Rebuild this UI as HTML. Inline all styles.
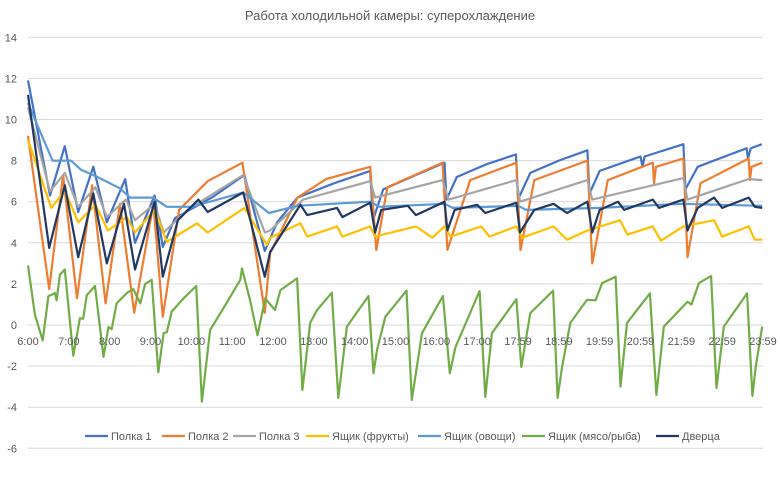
<!DOCTYPE html>
<html><head><meta charset="utf-8"><style>
body{margin:0;background:#fff;}
svg{display:block;font-family:"Liberation Sans",sans-serif;}
</style></head><body>
<svg id="chart" width="780" height="482">
<text x="390" y="20" text-anchor="middle" font-size="13" fill="#595959">Работа холодильной камеры: суперохлаждение</text>
<g id="grid"></g><g id="series"></g><g id="xlabels"></g><g id="legend"></g>
</svg>
<script>
const yTicks=[14,12,10,8,6,4,2,0,-2,-4,-6];
const xTickLabels=["6:00","7:00","8:00","9:00","10:00","11:00","12:00","13:00","14:00","15:00","16:00","17:00","17:59","18:59","19:59","20:59","21:59","22:59","23:59"];
const seriesNames=["Полка 1","Полка 2","Полка 3","Ящик (фрукты)","Ящик (овощи)","Ящик (мясо/рыба)","Дверца"];
const p1T=[0,0.54,0.9,1.23,1.6,1.93,2.38,2.62,3.1,3.3,3.6,4.5,5.3,5.8,6.1,6.6,7.5,8.38,8.45,8.7,9.5,10.2,10.25,10.5,11.2,11.95,12.0,12.3,13.0,13.7,13.75,14.0,15.0,15.05,15.1,16.05,16.1,16.4,17.2,17.6,17.63,17.7,17.97];
const p1V=[11.9,6.3,8.7,5.5,7.7,5.0,7.1,4.0,6.3,3.8,5.2,6.2,7.3,3.6,5.0,6.2,6.9,7.5,5.1,6.6,7.3,7.9,6.1,7.2,7.8,8.3,6.1,7.4,8.0,8.5,6.4,7.5,8.2,7.7,8.2,8.8,6.6,7.7,8.3,8.6,8.1,8.6,8.8];
const p2T=[0,0.52,0.86,1.2,1.57,1.9,2.25,2.6,3.07,3.3,3.7,4.4,5.25,5.8,5.93,6.6,7.3,8.38,8.53,8.8,10.15,10.27,10.83,11.96,12.06,12.4,13.7,13.82,14.2,15.3,15.33,15.38,16.05,16.15,16.47,17.65,17.68,17.72,17.98];
const p2V=[9.2,1.75,7.3,1.3,6.8,1.05,5.9,0.6,5.9,0.4,5.6,7.0,7.9,0.6,3.5,6.2,7.1,7.7,3.65,6.7,7.9,3.65,7.05,7.9,3.65,7.05,8.0,3.0,7.05,7.9,6.9,7.7,8.1,3.3,6.9,8.1,7.05,7.7,7.9];
const p3T=[0,0.54,0.9,1.23,1.65,1.93,2.4,2.62,3.1,3.32,3.9,5.27,5.8,5.93,6.74,8.38,8.5,10.15,10.3,11.96,12.05,13.7,13.82,16.05,16.15,17.65,17.98];
const p3V=[10.6,6.5,7.4,5.75,6.7,5.25,6.1,5.1,5.9,4.5,5.6,7.3,4.5,4.6,6.1,7.0,6.2,7.05,6.1,7.05,6.0,7.05,6.1,7.15,6.1,7.1,7.05];
const frT=[0,0.57,0.9,1.23,1.65,1.96,2.42,2.62,3.1,3.4,4.14,4.4,5.3,5.85,5.93,6.67,6.84,7.57,7.7,8.38,8.5,9.5,9.9,10.2,10.35,11.1,11.3,11.96,12.1,12.87,13.2,13.7,14.5,14.68,15.3,15.5,16.05,16.8,17.0,17.65,17.8,17.98];
const frV=[9.0,5.7,6.55,5.0,5.85,4.6,5.25,4.5,5.6,4.05,4.95,4.5,5.7,3.9,4.25,4.95,4.3,4.8,4.3,4.8,4.3,4.8,4.25,4.8,4.3,4.8,4.3,4.8,4.25,4.8,4.15,4.6,5.1,4.4,4.8,4.1,4.8,5.1,4.3,4.8,4.15,4.15];
const vgT=[0,0.6,1.05,1.3,1.7,2.25,2.5,3.06,3.4,4.0,5.27,5.9,6.6,8.38,8.6,10.2,10.4,12.0,12.2,14.0,16.0,17.98];
const vgV=[10.8,8.0,8.0,7.55,7.2,6.65,6.2,6.2,5.75,5.75,6.45,5.45,5.8,6.0,5.75,5.9,5.7,5.8,5.6,5.7,5.9,5.8];
const mtT=[0,0.17,0.36,0.5,0.66,0.7,0.78,0.9,1.11,1.27,1.35,1.44,1.64,1.85,1.97,2.05,2.17,2.42,2.58,2.75,2.87,3.03,3.19,3.32,3.4,3.52,3.81,4.12,4.26,4.46,4.79,5.2,5.24,5.44,5.62,5.81,6.05,6.18,6.59,6.72,6.91,7.08,7.44,7.6,7.81,8.34,8.46,8.55,8.75,9.27,9.4,9.65,10.16,10.33,10.47,11.06,11.2,11.36,11.96,12.08,12.3,12.86,12.97,13.08,13.28,13.69,13.9,14.06,14.39,14.51,14.67,15.23,15.39,15.57,16.15,16.25,16.43,16.73,16.86,17.04,17.61,17.74,17.82,17.98];
const mtV=[2.9,0.5,-0.75,1.4,1.55,1.2,2.45,2.7,-1.5,0.33,0.3,1.45,1.9,-1.55,-0.1,-0.2,1.05,1.55,1.75,1.05,2.0,2.2,-2.3,-0.4,-0.35,0.65,1.3,1.9,-3.73,-0.25,0.83,2.2,2.75,1.2,-0.5,1.3,0.73,1.7,2.27,-3.16,0.1,0.73,1.57,-3.55,-0.08,1.41,-2.34,-1.2,0.4,1.67,-3.65,-0.4,1.41,-2.34,-1.07,1.65,-3.5,-0.4,1.26,-2.04,0.58,1.67,-3.55,-2.04,0.1,1.22,1.2,2.04,2.35,-3.0,0.1,1.54,-3.4,-0.08,1.13,1.0,2.04,2.38,-3.07,-0.08,1.54,-3.45,-2.04,-0.08];
const drT=[0,0.52,0.9,1.23,1.6,1.93,2.35,2.62,3.1,3.3,3.67,4.17,4.4,5.27,5.8,5.93,6.67,6.84,7.57,7.7,8.38,8.5,8.65,9.3,9.5,10.2,10.27,10.45,11.0,11.2,11.96,12.05,12.4,12.87,13.2,13.7,13.82,14.0,14.45,14.6,15.3,15.45,16.05,16.15,16.4,16.8,17.0,17.65,17.8,17.98];
const drV=[11.2,3.75,6.8,3.3,6.4,3.0,5.9,2.7,6.0,2.35,5.1,6.1,5.5,6.45,2.35,3.55,5.85,5.35,5.7,5.25,5.95,4.5,5.6,5.8,5.35,6.0,4.6,5.6,5.85,5.45,5.95,4.5,5.6,5.9,5.45,6.0,4.5,5.6,6.0,5.6,6.1,5.7,6.1,4.6,5.7,6.2,5.7,6.2,5.75,5.7];
const allT=[p1T,p2T,p3T,frT,vgT,mtT,drT];
const allV=[p1V,p2V,p3V,frV,vgV,mtV,drV];
const colors=["#4472C4","#ED7D31","#A5A5A5","#FFC000","#5B9BD5","#70AD47","#203864"];
const X0=28,X1=763,Y0=325,PU=20.55;
const xs=t=>X0+t*(X1-X0)/18;
const ys=v=>Y0-v*PU;
const NS="http://www.w3.org/2000/svg";
const mk=(tag,attrs,parent)=>{const e=document.createElementNS(NS,tag);for(const k in attrs)e.setAttribute(k,attrs[k]);parent.appendChild(e);return e;};
const grid=document.getElementById('grid');
yTicks.forEach(v=>{
  const l=mk('line',{x1:X0,x2:X1,y1:ys(v),y2:ys(v),stroke:'#D9D9D9','stroke-width':1},grid);
  
  
  const t=mk('text',{x:17,y:ys(v)+4,'text-anchor':'end','font-size':11,fill:'#595959'},grid);
  t.textContent=v;
  
  
});
const xl=document.getElementById('xlabels');
xTickLabels.forEach((s,i)=>{
  const t=mk('text',{x:xs(i),y:345,'text-anchor':'middle','font-size':11,fill:'#595959'},xl);
  t.textContent=s;
  
  
});
const sg=document.getElementById('series');
allT.forEach((T,si)=>{
  const pts=T.map((t,i)=>xs(t).toFixed(1)+','+ys(allV[si][i]).toFixed(1)).join(' ');
  const p=mk('polyline',{points:pts,fill:'none',stroke:colors[si],'stroke-width':2.2,'stroke-linejoin':'round'},sg);
  
  
});
const lg=document.getElementById('legend');
const lx=[85,162,233,306,418,522,656];
seriesNames.forEach((n,i)=>{
  const g=mk('g',{},lg);
  
  
  mk('line',{x1:lx[i],x2:lx[i]+23,y1:436,y2:436,stroke:colors[i],'stroke-width':2.2},g);
  const t=mk('text',{x:lx[i]+26,y:440,'font-size':11,fill:'#595959'},g);
  t.textContent=n;
});
</script>
</body></html>
